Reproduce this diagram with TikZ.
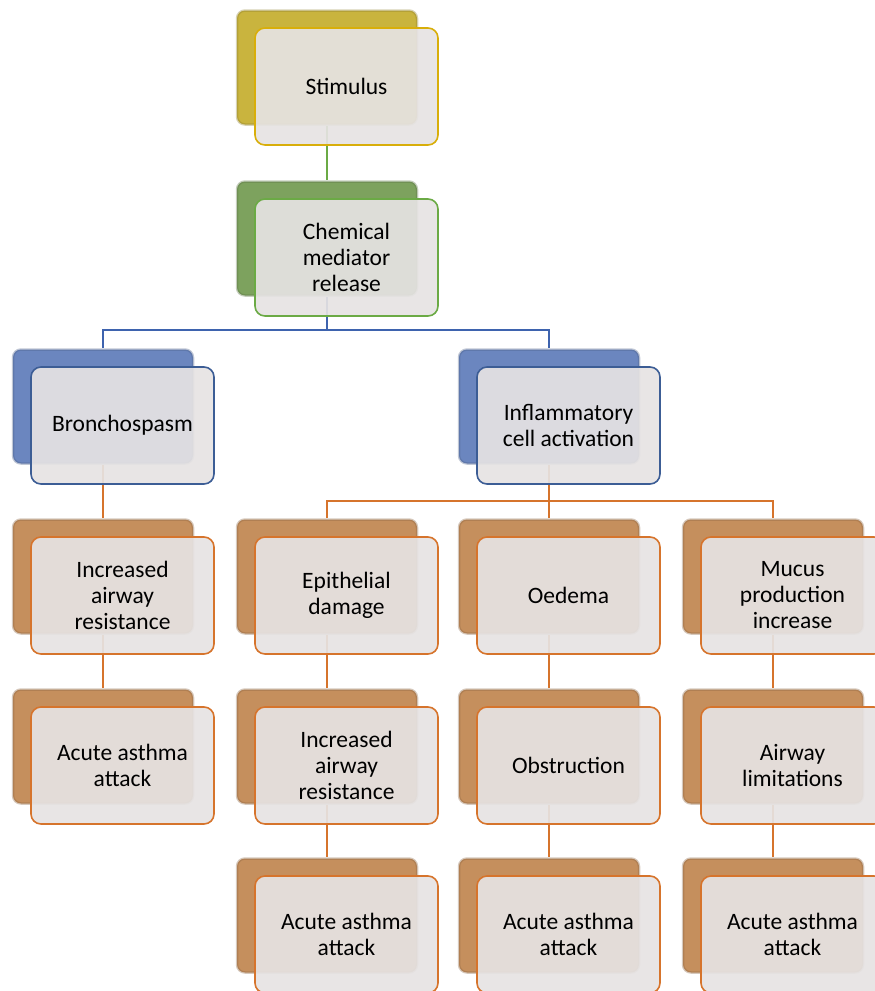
\documentclass[tikz,border=0pt]{standalone}
\usepackage{fontspec}
\setmainfont{Carlito}
\definecolor{yelback}{HTML}{C9B43E}
\definecolor{yelline}{HTML}{D8AE0A}
\definecolor{grnback}{HTML}{7DA25E}
\definecolor{grnline}{HTML}{6BAA45}
\definecolor{bluback}{HTML}{6B86BF}
\definecolor{bluline}{HTML}{3C5D95}
\definecolor{blucon}{HTML}{3E63AE}
\definecolor{orgback}{HTML}{C58F5D}
\definecolor{orgline}{HTML}{D6742C}
\definecolor{boxfill}{HTML}{E6E3E3}

\begin{document}
\begin{tikzpicture}[x=1pt, y=-1pt,
  back/.style={fill=#1, draw=#1!70!black, draw opacity=.35, line width=2.5pt, minimum width=180pt, minimum height=114pt, rounded corners=8pt},
  front/.style={draw=#1, line width=1.6pt, fill=boxfill, fill opacity=.92, text opacity=1, minimum width=183pt, minimum height=117pt, rounded corners=10pt, align=center, font=\fontsize{23.5}{26}\selectfont},
  con/.style={draw=#1, line width=2.2pt}]
\path[use as bounding box] (0,0) rectangle (875,991);
\clip (0,0) rectangle (875,991);
% back plates
\node[back=yelback] (stimB) at (327,67.5) {}; \node[back=grnback] (chemB) at (327,238.5) {};
\node[back=bluback] (bronB) at (103,406.5) {}; \node[back=bluback] (inflB) at (549,406.5) {};
\node[back=orgback] (inc1B) at (103,576.5) {}; \node[back=orgback] (epiB) at (327,576.5) {};
\node[back=orgback] (oedB) at (549,576.5) {}; \node[back=orgback] (mucB) at (773,576.5) {};
\node[back=orgback] (acu1B) at (103,746.5) {}; \node[back=orgback] (inc2B) at (327,746.5) {};
\node[back=orgback] (obsB) at (549,746.5) {}; \node[back=orgback] (limB) at (773,746.5) {};
\node[back=orgback] (acu2B) at (327,915.5) {}; \node[back=orgback] (acu3B) at (549,915.5) {};
\node[back=orgback] (acu4B) at (773,915.5) {};
% connectors
\draw[con=grnline] (stimB) -- (chemB);
\draw[con=blucon] (chemB.south) -- ++(0,33) coordinate (j1) -| (bronB.north) (j1) -| (inflB.north);
\draw[con=orgline] (inflB.south) -- ++(0,36) coordinate (j2) -| (epiB.north) (j2) -| (oedB.north) (j2) -| (mucB.north);
\draw[con=orgline] (bronB) -- (inc1B); \draw[con=orgline] (inc1B) -- (acu1B);
\draw[con=orgline] (epiB) -- (inc2B); \draw[con=orgline] (inc2B) -- (acu2B);
\draw[con=orgline] (oedB) -- (obsB); \draw[con=orgline] (obsB) -- (acu3B);
\draw[con=orgline] (mucB) -- (limB); \draw[con=orgline] (limB) -- (acu4B);
% front cards
\node[front=yelline] (stim) at ([shift={(19.5,19)}]stimB) {Stimulus};
\node[front=grnline] (chem) at ([shift={(19.5,19)}]chemB) {Chemical\\mediator\\release};
\node[front=bluline] (bron) at ([shift={(19.5,19)}]bronB) {Bronchospasm};
\node[front=bluline] (infl) at ([shift={(19.5,19)}]inflB) {Inflammatory\\cell activation};
\node[front=orgline] (inc1) at ([shift={(19.5,19)}]inc1B) {Increased\\airway\\resistance};
\node[front=orgline] (epi) at ([shift={(19.5,19)}]epiB) {Epithelial\\damage};
\node[front=orgline] (oed) at ([shift={(19.5,19)}]oedB) {Oedema};
\node[front=orgline] (muc) at ([shift={(19.5,19)}]mucB) {Mucus\\production\\increase};
\node[front=orgline] (acu1) at ([shift={(19.5,19)}]acu1B) {Acute asthma\\attack};
\node[front=orgline] (inc2) at ([shift={(19.5,19)}]inc2B) {Increased\\airway\\resistance};
\node[front=orgline] (obs) at ([shift={(19.5,19)}]obsB) {Obstruction};
\node[front=orgline] (lim) at ([shift={(19.5,19)}]limB) {Airway\\limitations};
\node[front=orgline] (acu2) at ([shift={(19.5,19)}]acu2B) {Acute asthma\\attack};
\node[front=orgline] (acu3) at ([shift={(19.5,19)}]acu3B) {Acute asthma\\attack};
\node[front=orgline] (acu4) at ([shift={(19.5,19)}]acu4B) {Acute asthma\\attack};
\end{tikzpicture}
\end{document}
